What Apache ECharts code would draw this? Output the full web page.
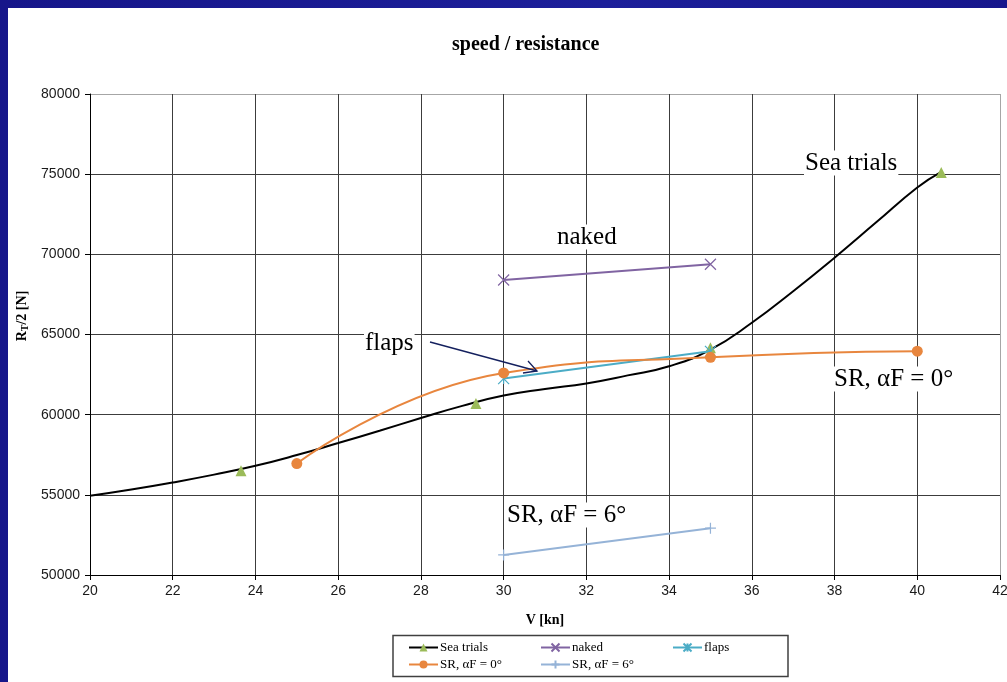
<!DOCTYPE html>
<html>
<head>
<meta charset="utf-8">
<title>speed / resistance</title>
<script src="https://cdn.jsdelivr.net/npm/echarts@6/dist/echarts.min.js"></script>
<style>
  html, body { margin: 0; padding: 0; }
  body { width: 1007px; height: 682px; overflow: hidden;
         background: linear-gradient(90deg, #16168a 0%, #1c1f9a 60%, #16168c 100%); position: relative; }
  #sheet { position: absolute; left: 8px; top: 8px; right: 0; bottom: 0; background: #ffffff; }
  #chart { position: absolute; left: 0; top: 0; width: 1007px; height: 682px; }
</style>
</head>
<body>
<div id="sheet"></div>
<div id="chart"></div>
<script>
// Speed V [kn] against half total resistance RT/2 [N]

// Sea trials: fitted curve and measured points
const seaTrialsCurveV = [20, 21, 22, 23, 24, 25, 26, 27, 28, 29, 30, 31, 32, 33, 34, 35, 36, 37, 38, 39, 40, 40.55];
const seaTrialsCurveR = [54940, 55330, 55770, 56260, 56810, 57480, 58230, 59000, 59790, 60550, 61190, 61600, 61950, 62450, 63020, 64060, 65730, 67700, 69790, 71980, 74170, 75100];
const seaTrialsV = [23.65, 29.33, 35.0, 40.58];
const seaTrialsR = [56500, 60690, 64170, 75100];

// Model tests
const nakedV = [30, 35];
const nakedR = [68400, 69380];
const flapsV = [30, 35];
const flapsR = [62250, 63950];
const sr0V = [25, 30, 35, 40];
const sr0R = [56950, 62600, 63580, 63960];
const sr6V = [30, 35];
const sr6R = [51250, 52920];

// Axis ranges
const speedMin = 20, speedMax = 42, speedStep = 2;
const resMin = 50000, resMax = 80000, resStep = 5000;

const pairs = (xs, ys) => xs.map((x, i) => [x, ys[i]]);

const SERIF = '"Liberation Serif", "Times New Roman", serif';
const SANS = '"Liberation Sans", Arial, sans-serif';

const C_BLACK = '#000000';
const C_GREEN = '#9bbb59';
const C_PURPLE = '#8064a2';
const C_CYAN = '#4bacc6';
const C_ORANGE = '#e8863e';
const C_STEEL = '#95b3d7';

const SYM_X = 'path://M0,0L10,10M10,0L0,10';
const SYM_STAR = 'path://M0,0L10,10M10,0L0,10M5,0L5,10';
const SYM_PLUS = 'path://M5,0L5,10M0,5L10,5';

const chart = echarts.init(document.getElementById('chart'), null, { renderer: 'canvas' });

const gridLineColors = (n) => {
  const c = [];
  for (let i = 0; i < n; i++) c.push(i === n - 1 ? '#a6a6a6' : '#3c3c3c');
  return c;
};

const legendItem = (name, left, top) => ({
  data: [name],
  left: left, top: top,
  orient: 'horizontal',
  itemWidth: 29, itemHeight: 10, itemGap: 0,
  padding: 0,
  selectedMode: false,
  textStyle: { fontFamily: SERIF, fontSize: 13, color: '#000', padding: [0, 0, 0, -3] }
});

const option = {
  backgroundColor: 'transparent',
  animation: false,
  title: {
    text: 'speed / resistance',
    left: 447, top: 30,
    textStyle: { fontFamily: SERIF, fontSize: 20, fontWeight: 'bold', color: '#000' }
  },
  grid: { left: 90, right: 7, top: 94, bottom: 107, containLabel: false, outerBoundsMode: 'none' },
  xAxis: {
    type: 'value',
    min: speedMin, max: speedMax, interval: speedStep,
    name: 'V [kn]', nameLocation: 'middle', nameGap: 38,
    nameTextStyle: { fontFamily: SERIF, fontSize: 14, fontWeight: 'bold', color: '#000' },
    axisLine: { show: true, onZero: false, lineStyle: { color: '#000', width: 1 } },
    axisTick: { show: true, inside: false, length: 5, lineStyle: { color: '#000' } },
    axisLabel: { fontFamily: SANS, fontSize: 14, color: '#1a1a1a', margin: 9, formatter: (v) => String(v) },
    splitLine: { show: true, lineStyle: { color: gridLineColors(12), width: 1 } }
  },
  yAxis: {
    type: 'value',
    min: resMin, max: resMax, interval: resStep,
    axisLine: { show: true, onZero: false, lineStyle: { color: '#000', width: 1 } },
    axisTick: { show: true, inside: false, length: 5, lineStyle: { color: '#000' } },
    axisLabel: { fontFamily: SANS, fontSize: 14, color: '#1a1a1a', margin: 10, formatter: (v) => String(v) },
    splitLine: { show: true, lineStyle: { color: gridLineColors(7), width: 1 } }
  },
  legend: [
    legendItem('Sea trials', 408, 641),
    legendItem('naked', 540, 641),
    legendItem('flaps', 672, 641),
    legendItem('SR, αF = 0°', 408, 658),
    legendItem('SR, αF = 6°', 540, 658)
  ],
  series: [
    {
      name: 'Sea trials', type: 'line',
      data: pairs(seaTrialsCurveV, seaTrialsCurveR),
      smooth: 0.5, showSymbol: false, symbol: 'triangle', symbolSize: 10,
      lineStyle: { color: C_BLACK, width: 2 },
      itemStyle: { color: C_GREEN },
      z: 2
    },
    {
      name: 'Sea trials', type: 'scatter',
      data: pairs(seaTrialsV, seaTrialsR),
      symbol: 'triangle', symbolSize: 11,
      itemStyle: { color: C_GREEN, opacity: 1 },
      z: 3
    },
    {
      name: 'naked', type: 'line',
      data: pairs(nakedV, nakedR),
      symbol: SYM_X, symbolSize: 11, showSymbol: true,
      lineStyle: { color: C_PURPLE, width: 2 },
      itemStyle: { color: 'none', borderColor: C_PURPLE, borderWidth: 1.2 },
      z: 4
    },
    {
      name: 'flaps', type: 'line',
      data: pairs(flapsV, flapsR),
      symbol: SYM_STAR, symbolSize: 11, showSymbol: true,
      lineStyle: { color: C_CYAN, width: 2 },
      itemStyle: { color: 'none', borderColor: C_CYAN, borderWidth: 1.2 },
      z: 4
    },
    {
      name: 'SR, αF = 0°', type: 'line',
      data: pairs(sr0V, sr0R),
      smooth: 0.5,
      symbol: 'circle', symbolSize: 11, showSymbol: true,
      lineStyle: { color: C_ORANGE, width: 2 },
      itemStyle: { color: C_ORANGE },
      z: 5
    },
    {
      name: 'SR, αF = 6°', type: 'line',
      data: pairs(sr6V, sr6R),
      symbol: SYM_PLUS, symbolSize: 11, showSymbol: true,
      lineStyle: { color: C_STEEL, width: 2 },
      itemStyle: { color: 'none', borderColor: C_STEEL, borderWidth: 1.2 },
      z: 5
    }
  ],
  graphic: [
    // y axis title with subscript
    {
      type: 'text', x: 22, y: 316, rotation: Math.PI / 2, z: 10,
      style: {
        text: '{r|R}{s|T}{r|/2 [N]}',
        align: 'center', verticalAlign: 'middle',
        rich: {
          r: { fontFamily: SERIF, fontSize: 14, fontWeight: 'bold', fill: '#000', lineHeight: 16 },
          s: { fontFamily: SERIF, fontSize: 10, fontWeight: 'bold', fill: '#000', lineHeight: 16, padding: [7, 0, 0, 0] }
        }
      }
    },
    // legend frame
    {
      type: 'rect', z: 1,
      shape: { x: 393, y: 635.5, width: 395, height: 41 },
      style: { fill: '#fff', stroke: '#404040', lineWidth: 1.5 }
    },
    // series labels inside the plot
    {
      type: 'text', x: 804, y: 163, z: 20,
      style: { text: 'Sea trials', fontFamily: SERIF, fontSize: 25, fill: '#000',
               backgroundColor: '#fff', padding: [0, 1], align: 'left', verticalAlign: 'middle' }
    },
    {
      type: 'text', x: 556, y: 237, z: 20,
      style: { text: 'naked', fontFamily: SERIF, fontSize: 25, fill: '#000',
               backgroundColor: '#fff', padding: [0, 1], align: 'left', verticalAlign: 'middle' }
    },
    {
      type: 'text', x: 364, y: 343, z: 20,
      style: { text: 'flaps', fontFamily: SERIF, fontSize: 25, fill: '#000',
               backgroundColor: '#fff', padding: [0, 1], align: 'left', verticalAlign: 'middle' }
    },
    {
      type: 'text', x: 833, y: 379, z: 20,
      style: { text: 'SR, αF = 0°', fontFamily: SERIF, fontSize: 25, fill: '#000',
               backgroundColor: '#fff', padding: [0, 1], align: 'left', verticalAlign: 'middle' }
    },
    {
      type: 'text', x: 506, y: 515, z: 20,
      style: { text: 'SR, αF = 6°', fontFamily: SERIF, fontSize: 25, fill: '#000',
               backgroundColor: '#fff', padding: [0, 1], align: 'left', verticalAlign: 'middle' }
    },
    // pointer from the "flaps" label to its line
    {
      type: 'polyline', z: 20,
      shape: { points: [[430, 342], [537, 371]] },
      style: { stroke: '#14205e', lineWidth: 1.3, fill: null }
    },
    {
      type: 'polyline', z: 20,
      shape: { points: [[528, 361], [537, 371], [523, 373]] },
      style: { stroke: '#14205e', lineWidth: 1.3, fill: null }
    }
  ]
};

chart.setOption(option);
</script>
</body>
</html>
